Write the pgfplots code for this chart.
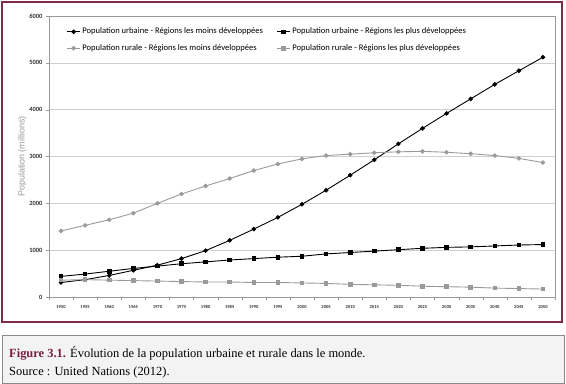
\documentclass[border=0pt]{standalone}
\usepackage{pgfplots}
\pgfplotsset{compat=1.18}
\usepackage{fontspec}
\setmainfont{Liberation Serif}
\newfontfamily\plotfont{Carlito}
\newfontfamily\arialfont{Liberation Sans}
\definecolor{maroon}{HTML}{7B2C47}
\definecolor{capmaroon}{HTML}{7A1F3D}
\definecolor{ltgray}{HTML}{9A9A9A}
\definecolor{gridc}{HTML}{D0D0D0}
\definecolor{capbg}{HTML}{F3F3F3}
\definecolor{capborder}{HTML}{8A8A8A}
\definecolor{tickc}{HTML}{333333}
\begin{document}
\begin{tikzpicture}
\path[use as bounding box] (0bp,0bp) rectangle (566bp,384bp);
\fill[white] (0bp,0bp) rectangle (566bp,384bp);
\draw[maroon, line width=1.6bp] (2bp,62bp) rectangle (562bp,382bp);
\fill[capbg] (2bp,1bp) rectangle (564bp,49bp);
\draw[capborder, line width=0.8bp] (2bp,1bp) rectangle (564bp,49bp);
\node[anchor=base west, inner sep=0, font=\fontsize{12.5}{14}\selectfont] at (9bp,27bp) {\textbf{\color{capmaroon}Figure 3.1.} Évolution de la population urbaine et rurale dans le monde.};
\node[anchor=base west, inner sep=0, font=\fontsize{12.5}{14}\selectfont] at (9bp,9bp) {Source : United Nations (2012).};
\begin{axis}[
  at={(49bp,87bp)}, anchor=south west,
  width=506bp, height=281bp, scale only axis,
  xmin=-0.5, xmax=20.5, ymin=0, ymax=6000,
  xtick={0,...,20},
  xticklabels={1950,1955,1960,1965,1970,1975,1980,1985,1990,1995,2000,2005,2010,2015,2020,2025,2030,2035,2040,2045,2050},
  major x tick style={draw=none},
  minor xtick={-0.5,0.5,...,20.5},
  minor tick length=3bp,
  minor x tick style={ltgray},
  xtick pos=bottom, ytick pos=left,
  tick align=outside,
  ytick={0,1000,...,6000},
  major tick length=3bp,
  y tick style={ltgray},
  scaled y ticks=false,
  yticklabel style={/pgf/number format/1000 sep=, font=\plotfont\bfseries\fontsize{6.5}{7}\selectfont, text=tickc},
  /pgf/number format/assume math mode=true,
  xticklabel style={font=\plotfont\bfseries\fontsize{4.6}{6}\selectfont, text=tickc, yshift=-2bp},
  ymajorgrids, grid style={gridc, line width=0.6bp},
  axis line style={ltgray, line width=0.6bp},
  ylabel={Population (millions)},
  ylabel style={font=\arialfont\fontsize{9}{10}\selectfont, text=ltgray, yshift=-4bp},
  legend style={draw=none, fill=none, at={(0.035,0.965)}, anchor=north west,
    font=\plotfont\fontsize{8.6}{10}\selectfont, /tikz/every even column/.append style={column sep=12bp},
    row sep=5bp, inner sep=0pt},
  legend columns=2,
  legend cell align=left,
  legend image code/.code={\draw[mark repeat=2,mark phase=2] plot coordinates {(0cm,0cm) (0.22cm,0cm) (0.44cm,0cm)};},
]
\addplot[black, line width=0.9bp, mark=*, mark size=1.8bp] coordinates {
(0,310)(1,370)(2,460)(3,570)(4,680)(5,820)(6,990)(7,1210)(8,1450)(9,1700)(10,1980)(11,2280)(12,2600)(13,2930)(14,3270)(15,3600)(16,3920)(17,4230)(18,4540)(19,4830)(20,5120)};
\addlegendentry{Population urbaine - Régions les moins développées}
\addplot[black, line width=0.9bp, mark=square*, mark size=1.8bp] coordinates {
(0,440)(1,490)(2,550)(3,610)(4,660)(5,710)(6,750)(7,790)(8,820)(9,850)(10,870)(11,920)(12,950)(13,980)(14,1010)(15,1040)(16,1060)(17,1070)(18,1090)(19,1110)(20,1120)};
\addlegendentry{Population urbaine - Régions les plus développées}
\addplot[ltgray, line width=0.9bp, mark=*, mark size=1.8bp] coordinates {
(0,1410)(1,1530)(2,1650)(3,1790)(4,2000)(5,2200)(6,2370)(7,2530)(8,2700)(9,2840)(10,2950)(11,3020)(12,3050)(13,3080)(14,3100)(15,3110)(16,3090)(17,3060)(18,3020)(19,2960)(20,2870)};
\addlegendentry{Population rurale - Régions les moins développées}
\addplot[ltgray, line width=0.9bp, mark=square*, mark size=1.8bp] coordinates {
(0,360)(1,370)(2,360)(3,350)(4,340)(5,330)(6,320)(7,320)(8,310)(9,310)(10,300)(11,290)(12,270)(13,260)(14,250)(15,230)(16,220)(17,210)(18,190)(19,180)(20,170)};
\addlegendentry{Population rurale - Régions les plus développées}
\end{axis}
\end{tikzpicture}
\end{document}
